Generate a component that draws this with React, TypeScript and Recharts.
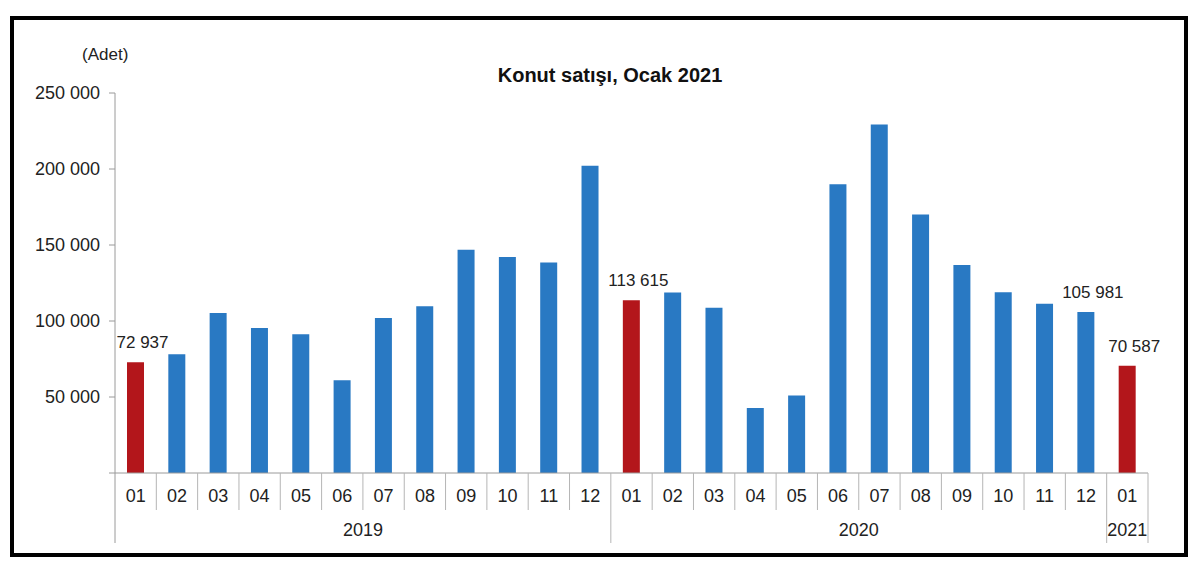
import React from "react";
import { BarChart, Bar, XAxis, YAxis, Cell, LabelList } from "recharts";

const months = [
  "01", "02", "03", "04", "05", "06", "07", "08", "09", "10", "11", "12",
  "01", "02", "03", "04", "05", "06", "07", "08", "09", "10", "11", "12",
  "01",
];
const yearLabels = ["2019", "2020", "2021"];
const yearSizes = [12, 12, 1];
const sales2019 = [72937, 78076, 105314, 95446, 91214, 60974, 101970, 109699, 146880, 142130, 138424, 202076];
const sales2020 = [113615, 118753, 108670, 42783, 50936, 190012, 229357, 170028, 136819, 118888, 111355, 105981];
const sales2021 = [70587];
const labelledIdx = [0, 12, 23, 24];
const yTicks = [0, 50000, 100000, 150000, 200000, 250000];

const values = [...sales2019, ...sales2020, ...sales2021];
const data = values.map((v, i) => ({
  month: months[i],
  value: v,
  label: labelledIdx.includes(i) ? v : null,
}));

const BLUE = "#2979c3";
const RED = "#b3161b";
const TXT = "#222";
const GRID = "#9a9a9a";

const PLOT_LEFT = 115;
const PLOT_RIGHT = 1148;
const HALF = (PLOT_RIGHT - PLOT_LEFT) / months.length / 2;

const fmt = (v: number) => String(v).replace(/\B(?=(\d{3})+(?!\d))/g, " ");

// year boundaries (index of last month in each year) and label positions
const yearEnds: number[] = [];
const yearMids: { idx: number; shift: number; text: string }[] = [];
let acc = 0;
yearSizes.forEach((n, k) => {
  yearEnds.push(acc + n - 1);
  const mid = acc + (n - 1) / 2;
  yearMids.push({ idx: Math.floor(mid), shift: mid % 1 ? HALF : 0, text: yearLabels[k] });
  acc += n;
});

const MonthTick = (props: any) => {
  const { x, y, payload, index } = props;
  const longRight = yearEnds.includes(index);
  const yr = yearMids.find((m) => m.idx === index);
  return (
    <g>
      <text x={x} y={y + 24} textAnchor="middle" dominantBaseline="middle" fontSize={18} fill={TXT}>
        {payload.value}
      </text>
      {index === 0 && <line x1={x - HALF} x2={x - HALF} y1={y} y2={y + 70} stroke={GRID} />}
      <line x1={x + HALF} x2={x + HALF} y1={y} y2={y + (longRight ? 70 : 37)} stroke="#b5b5b5" />
      {yr && (
        <text x={x + yr.shift} y={y + 58} textAnchor="middle" dominantBaseline="middle" fontSize={18} fill={TXT}>
          {yr.text}
        </text>
      )}
    </g>
  );
};

const ValueLabel = (props: any) => {
  const { x, y, width, value } = props;
  if (value == null) return null;
  return (
    <text x={x + width / 2 + 7} y={y - 14} textAnchor="middle" fontSize={17} fill={TXT}>
      {fmt(value)}
    </text>
  );
};

export default function App() {
  return (
    <div
      style={{
        position: "absolute",
        left: 0,
        top: 0,
        width: 1200,
        height: 570,
        background: "#fff",
        fontFamily: "'Liberation Sans', Arial, sans-serif",
      }}
    >
      <div
        style={{
          position: "absolute",
          left: 10,
          top: 16,
          width: 1178,
          height: 541,
          border: "4px solid #000",
          boxSizing: "border-box",
        }}
      />
      <div style={{ position: "absolute", left: 82, top: 45, fontSize: 17, color: TXT }}>(Adet)</div>
      <div
        style={{
          position: "absolute",
          left: 0,
          width: 1220,
          top: 64,
          textAlign: "center",
          fontSize: 20,
          fontWeight: "bold",
          color: "#111",
        }}
      >
        Konut satışı, Ocak 2021
      </div>
      <div style={{ position: "absolute", left: 0, top: 0 }}>
        <BarChart
          width={1200}
          height={570}
          data={data}
          margin={{ top: 93, right: 1200 - PLOT_RIGHT, bottom: 17, left: 15 }}
          barSize={17}
        >
          <XAxis
            dataKey="month"
            height={80}
            interval={0}
            tick={<MonthTick />}
            tickLine={false}
            tickSize={0}
            tickMargin={0}
            axisLine={{ stroke: GRID }}
          />
          <YAxis
            width={100}
            domain={[0, 250000]}
            ticks={yTicks}
            interval={0}
            tickFormatter={(v: number) => (v === 0 ? "" : fmt(v))}
            tick={{ fontSize: 18, fill: TXT }}
            tickSize={6}
            tickMargin={9}
            tickLine={{ stroke: GRID }}
            axisLine={{ stroke: GRID }}
          />
          <Bar dataKey="value" isAnimationActive={false}>
            {data.map((d, i) => (
              <Cell key={i} fill={d.month === "01" ? RED : BLUE} />
            ))}
            <LabelList dataKey="label" content={<ValueLabel />} />
          </Bar>
        </BarChart>
      </div>
    </div>
  );
}
